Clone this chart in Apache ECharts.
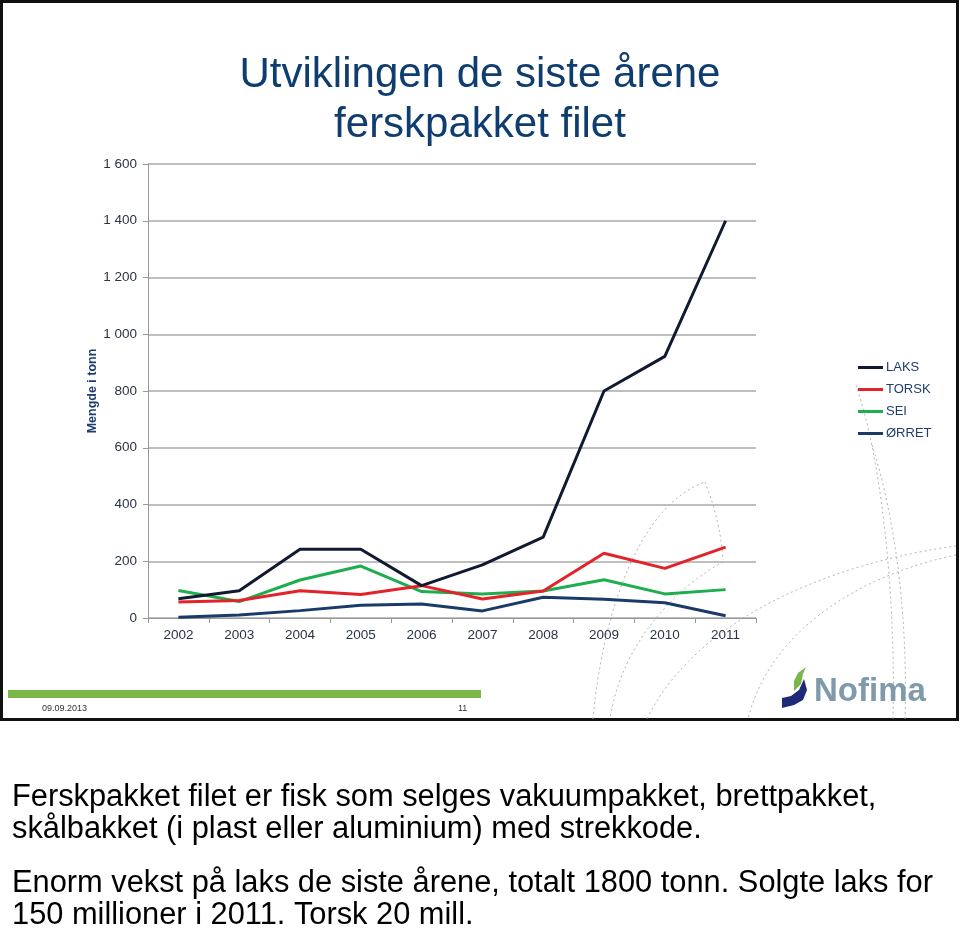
<!DOCTYPE html>
<html><head><meta charset="utf-8">
<script src="https://cdn.jsdelivr.net/npm/echarts@6/dist/echarts.min.js"></script>
<style>html,body{margin:0;padding:0;background:#fff}#c{width:960px;height:934px}</style>
</head><body><div id="c"></div>
<script>
var years = ['2002','2003','2004','2005','2006','2007','2008','2009','2010','2011'];
var laks  = [68, 96, 242, 242, 114, 187, 285, 800, 922, 1400];
var torsk = [56, 62, 96, 83, 114, 67, 95, 228, 175, 250];
var sei   = [97, 58, 134, 183, 93, 85, 95, 135, 85, 100];
var orret = [3, 11, 26, 45, 49, 25, 73, 66, 54, 8];
var yTickLabels = ['0','200','400','600','800','1 000','1 200','1 400','1 600'];
var yAxisTitle = 'Mengde i tonn';
var seriesNames = ['LAKS','TORSK','SEI','ØRRET'];
var seriesColors = ['#111a30','#e3232a','#1fae4f','#1a3a6a'];
var titleLines = ['Utviklingen de siste årene','ferskpakket filet'];
var bodyLines = [
  'Ferskpakket filet er fisk som selges vakuumpakket, brettpakket,',
  'skålbakket (i plast eller aluminium) med strekkode.',
  'Enorm vekst på laks de siste årene, totalt 1800 tonn. Solgte laks for',
  '150 millioner i 2011. Torsk 20 mill.'
];

var chart = echarts.init(document.getElementById('c'), null, {renderer:'canvas'});
var dash = {stroke:'#b5b5b5', lineWidth:1, lineDash:[2,3], fill:null};
function curve(x1,y1,c1x,c1y,c2x,c2y,x2,y2){
  return {type:'bezierCurve', z:-5, silent:true, shape:{x1:x1,y1:y1,cpx1:c1x,cpy1:c1y,cpx2:c2x,cpy2:c2y,x2:x2,y2:y2}, style:dash};
}
var bodyY = [798, 830, 884, 916];
var graphics = [
  {type:'rect', z:-10, silent:true, shape:{x:1.5,y:1.5,width:956,height:718}, style:{fill:'#fff', stroke:'#111', lineWidth:3}},
  curve(593,719, 603,610, 640,505, 705,482),
  curve(705,482, 714,505, 721,530, 723,560),
  curve(723,562, 680,585, 622,640, 610,719),
  curve(956,546, 850,560, 700,610, 647,719),
  curve(956,555, 860,575, 770,630, 748,719),
  curve(856,385, 882,460, 896,600, 893,719),
  curve(872,445, 896,520, 908,620, 905,719),
  {type:'rect', silent:true, shape:{x:8,y:690,width:473,height:8}, style:{fill:'#7ab648'}},
  {type:'text', silent:true, x:42, y:709, style:{text:'09.09.2013', font:'9px "Liberation Sans", Arial, sans-serif', fill:'#333', textVerticalAlign:'middle'}},
  {type:'text', silent:true, x:458, y:709, style:{text:'11', font:'9px "Liberation Sans", Arial, sans-serif', fill:'#333', textVerticalAlign:'middle'}},
  {type:'polygon', silent:true, shape:{points:[[782,698],[791,696],[799,690],[804,679],[807,690],[803,700],[794,705],[782,708]]}, style:{fill:'#1e2a78'}},
  {type:'polygon', silent:true, shape:{points:[[794,691],[794,681],[798,673],[806,667],[803,674],[801,684]]}, style:{fill:'#7ab648'}},
  {type:'text', silent:true, x:814, y:692, style:{text:'Nofima', font:'bold 33px "Liberation Sans", Arial, sans-serif', fill:'#7f9aaa', textVerticalAlign:'middle'}},
  {type:'text', silent:true, x:93, y:391, rotation:Math.PI/2, style:{text:yAxisTitle, font:'bold 12.5px "Liberation Sans", Arial, sans-serif', fill:'#1f3d6e', textAlign:'center', textVerticalAlign:'middle'}}
];
bodyLines.forEach(function(t,i){
  graphics.push({type:'text', silent:true, x:12, y:bodyY[i], style:{text:t, font:'30.8px "Liberation Sans", Arial, sans-serif', fill:'#000', textVerticalAlign:'middle'}});
});

var seriesData = [laks, torsk, sei, orret];
var option = {
  backgroundColor:'#fff',
  animation:false,
  title:{text:titleLines.join('\n'), left:'center', top:45, textStyle:{fontFamily:'"Liberation Sans", Arial, sans-serif', fontWeight:'normal', fontSize:42, lineHeight:50, color:'#0f3d70'}},
  legend:{orient:'vertical', left:853, top:356, itemWidth:25, itemHeight:3, itemGap:9, icon:'rect',
    data:seriesNames, textStyle:{fontFamily:'"Liberation Sans", Arial, sans-serif', fontSize:13, color:'#1f3d6e', padding:[0,0,0,-2]}},
  grid:{left:148, right:204, top:164, bottom:316, containLabel:false},
  xAxis:{type:'category', data:years, boundaryGap:true,
    axisLine:{lineStyle:{color:'#999', width:1}},
    axisTick:{show:true, length:5, lineStyle:{color:'#999'}, alignWithLabel:false},
    axisLabel:{fontFamily:'"Liberation Sans", Arial, sans-serif', fontSize:13.5, color:'#2b3445', margin:10}},
  yAxis:{type:'value', min:0, max:1600, interval:200,
    axisLine:{show:true, lineStyle:{color:'#999', width:1}},
    axisTick:{show:true, length:5, lineStyle:{color:'#999'}},
    splitLine:{lineStyle:{color:'#aaa', width:1.5}},
    axisLabel:{fontFamily:'"Liberation Sans", Arial, sans-serif', fontSize:13.5, color:'#2b3445', margin:11,
      formatter:function(v){ return yTickLabels[Math.round(v/200)]; }}},
  series: seriesNames.map(function(n,i){
    return {name:n, type:'line', data:seriesData[i], symbol:'none', color:seriesColors[i],
      lineStyle:{width:3, color:seriesColors[i]}, z:10-i};
  }),
  graphic: graphics
};
chart.setOption(option);
</script></body></html>
